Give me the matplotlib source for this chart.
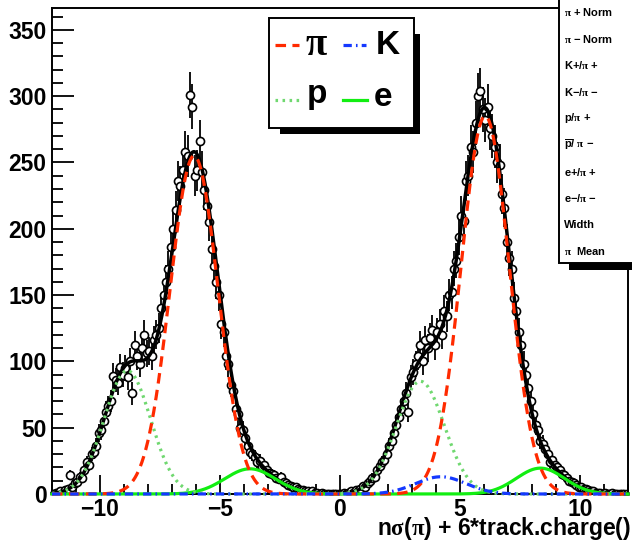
import matplotlib
matplotlib.use('Agg')
import matplotlib.pyplot as plt
from matplotlib.lines import Line2D
from matplotlib.patches import Rectangle
from matplotlib.ticker import MultipleLocator
import numpy as np

plt.rcParams['font.family'] = ['Liberation Sans', 'DejaVu Sans']
plt.rcParams['font.weight'] = 'bold'
plt.rcParams['mathtext.fontset'] = 'custom'
plt.rcParams['mathtext.rm'] = 'Liberation Sans:bold'
plt.rcParams['mathtext.bf'] = 'Liberation Sans:bold'
plt.rcParams['mathtext.it'] = 'Liberation Serif'
plt.rcParams['axes.unicode_minus'] = True

# histogram contents, bins of 0.1 from -12 to 0 (negative tracks)
negCounts = [0, 1, 1, 2, 1, 3, 4, 14, 5, 8,
             9, 13, 12, 18, 24, 22, 30, 32, 36, 46,
             48, 55, 62, 66, 70, 89, 86, 84, 96, 90,
             95, 88, 100, 76, 112, 104, 98, 110, 120, 106,
             108, 104, 116, 120, 125, 140, 150, 160, 170, 186,
             200, 214, 236, 232, 244, 258, 255, 301, 292, 240,
             244, 266, 243, 229, 217, 205, 185, 172, 160, 150,
             128, 122, 104, 98, 82, 78, 64, 60, 50, 48,
             42, 36, 32, 30, 28, 24, 25, 20, 22, 18,
             16, 15, 14, 12, 11, 13, 9, 8, 7, 6,
             5, 5, 4, 3, 3, 2, 2, 1, 2, 1,
             1, 0, 1, 0, 0, 0, 0, 0, 0, 0]
# bins of 0.1 from 0 to 12 (positive tracks)
posCounts = [0, 1, 0, 1, 2, 1, 3, 2, 4, 6,
             5, 8, 10, 12, 13, 18, 21, 24, 26, 30,
             36, 40, 46, 52, 58, 64, 70, 76, 62, 88,
             92, 98, 104, 112, 100, 116, 110, 118, 124, 112,
             122, 128, 120, 138, 134, 150, 152, 170, 176, 194,
             210, 206, 236, 240, 262, 258, 280, 300, 304, 290,
             282, 292, 276, 270, 262, 250, 248, 226, 216, 190,
             178, 170, 148, 138, 122, 112, 98, 90, 80, 70,
             60, 52, 48, 40, 38, 34, 30, 24, 26, 22,
             20, 18, 15, 14, 12, 10, 9, 8, 7, 5,
             5, 4, 4, 3, 2, 2, 1, 1, 1, 0,
             1, 0, 0, 1, 0, 0, 0, 0, 0, 0]

# fit components (gaussians): pi, K, p, e
species = ['pi', 'K', 'p', 'e']
negAmp = [255, 0, 93, 19]
negMean = [-6.08, -7.9, -8.86, -3.75]
negWidth = [1.0, 1.05, 0.97, 1.05]
posAmp = [285, 13, 85, 19.5]
posMean = [6.05, 4.2, 3.35, 8.35]
posWidth = [1.0, 1.05, 1.0, 1.0]

statsLabels = [r'$\pi$ + Norm', r'$\pi$ − Norm', r'K+/$\pi$ +', r'K−/$\pi$ −',
               r'p/$\pi$ +', r'$\overline{\mathbf{p}}$/ $\pi$ −', r'e+/$\pi$ +',
               r'e−/$\pi$ −', 'Width', r'$\pi$  Mean']


def gaus(x, a, m, s):
    return a * np.exp(-0.5 * ((x - m) / s) ** 2)


W, H = 632, 542
fig = plt.figure(figsize=(W / 100, H / 100), dpi=100)
ax = fig.add_axes([52 / W, 1 - 494 / H, 576 / W, 486 / H])

counts = np.array(negCounts + posCounts, dtype=float)
edges = np.linspace(-12, 12, len(counts) + 1)
centers = 0.5 * (edges[:-1] + edges[1:])
ax.errorbar(centers, counts, yerr=np.sqrt(counts), fmt='o', mfc='white', mec='black',
            mew=1.2, ms=5.8, ecolor='black', elinewidth=1.3, capsize=0, zorder=2)

xs = np.linspace(-12, 12, 1500)
comp = {}
for i, name in enumerate(species):
    comp[name] = gaus(xs, negAmp[i], negMean[i], negWidth[i]) + gaus(xs, posAmp[i], posMean[i], posWidth[i])
total = comp['pi'] + comp['K'] + comp['p'] + comp['e']

red = '#ff2a00'
blue = '#1438ff'
ltgreen = '#70d870'
green = '#12ee12'
lsPi = (0, (3.3, 2.0))
lsK = (0, (2.6, 1.3, 0.5, 1.3))
lsP = (0, (0.8, 1.4))

ax.plot(xs, total, color='black', lw=2.5, zorder=3, clip_on=False)
ax.plot(xs, comp['e'], color=green, lw=2.3, zorder=4, clip_on=False)
ax.plot(xs, comp['p'], color=ltgreen, lw=2.3, ls=lsP, zorder=5, clip_on=False)
ax.plot(xs, comp['pi'], color=red, lw=2.3, ls=lsPi, zorder=6, clip_on=False)
ax.plot(xs, comp['K'], color=blue, lw=2.3, ls=lsK, zorder=7, clip_on=False)

ax.set_xlim(-12, 12)
ax.set_ylim(0, 366.5)
ax.xaxis.set_major_locator(MultipleLocator(5))
ax.xaxis.set_minor_locator(MultipleLocator(1))
ax.yaxis.set_major_locator(MultipleLocator(50))
ax.yaxis.set_minor_locator(MultipleLocator(10))
ax.tick_params(which='both', direction='in', top=False, right=False, width=1.3, labelsize=16.5)
ax.tick_params(axis='x', which='major', length=14, pad=3)
ax.tick_params(axis='x', which='minor', length=7)
ax.tick_params(axis='y', which='major', length=16, pad=4)
ax.tick_params(axis='y', which='minor', length=8)
for lab in ax.get_xticklabels() + ax.get_yticklabels():
    lab.set_fontweight('bold')
for sp in ax.spines.values():
    sp.set_linewidth(1.4)

fig.text(631 / W, 1 - 535 / H, r'n$\sigma$($\pi$) + 6*track.charge()', ha='right', va='baseline',
         fontsize=16.5, fontweight='bold')


def fx(px):
    return px / W


def fy(py):
    return 1 - py / H


def box(x0, y0, x1, y1, fc, ec=None, z=10):
    r = Rectangle((fx(x0), fy(y1)), fx(x1) - fx(x0), fy(y0) - fy(y1), transform=fig.transFigure,
                  facecolor=fc, edgecolor=ec if ec else fc, lw=1.4 if ec else 0, zorder=z)
    fig.add_artist(r)


# legend
box(280, 34, 420, 134, 'black', z=10)
box(269, 18, 414, 128, 'white', 'black', z=11)
legItems = [(275, 299, 45, red, lsPi, r'$\pi$', 316, 45, 28),
            (343, 366, 45, blue, lsK, 'K', 388, 45, 24),
            (275, 300, 100, ltgreen, lsP, 'p', 317, 95, 24),
            (343, 367, 100, green, '-', 'e', 383, 97, 24)]
for x0, x1, y, col, ls, lab, tx, ty, fs in legItems:
    fig.add_artist(Line2D([fx(x0), fx(x1)], [fy(y), fy(y)], transform=fig.transFigure,
                          color=col, lw=2.3, ls=ls, zorder=12))
    fig.text(fx(tx), fy(ty), lab, ha='center', va='center', fontsize=fs, fontweight='bold', zorder=12)

# stats box
box(569, 262, 640, 270, 'black', z=10)
box(559, -5, 640, 263, 'white', 'black', z=11)
for i, lab in enumerate(statsLabels):
    fig.text(fx(564), fy(12 + i * 26.6), lab, ha='left', va='center', fontsize=8,
             fontweight='bold', zorder=12)

fig.savefig('out.png', dpi=100)
